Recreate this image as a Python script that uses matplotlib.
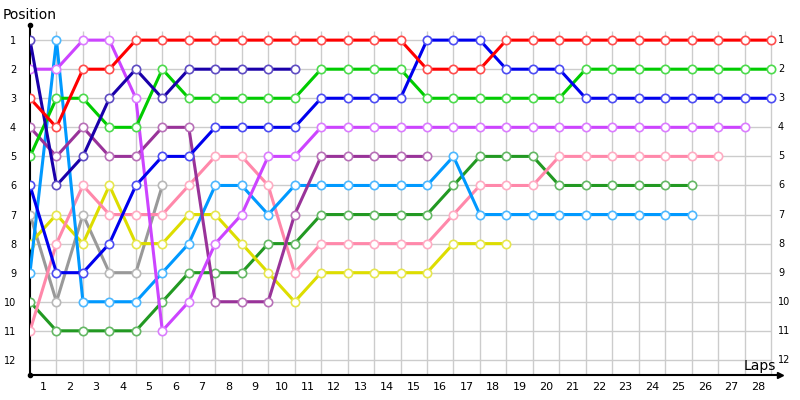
import matplotlib.pyplot as plt
from matplotlib.colors import to_rgb

# lap index 0 = start position, then laps 1..28
laps = list(range(0, 29))
lap_labels = [str(i) for i in range(1, 29)]
positions = list(range(1, 13))

red = [3, 4, 2, 2, 1, 1, 1, 1, 1, 1, 1, 1, 1, 1, 1, 2, 2, 2, 1, 1, 1, 1, 1, 1, 1, 1, 1, 1, 1]
navy = [1, 6, 5, 3, 2, 3, 2, 2, 2, 2, 2]
blue = [6, 9, 9, 8, 6, 5, 5, 4, 4, 4, 4, 3, 3, 3, 3, 1, 1, 1, 2, 2, 2, 3, 3, 3, 3, 3, 3, 3, 3]
green = [5, 3, 3, 4, 4, 2, 3, 3, 3, 3, 3, 2, 2, 2, 2, 3, 3, 3, 3, 3, 3, 2, 2, 2, 2, 2, 2, 2, 2]
violet = [2, 2, 1, 1, 3, 11, 10, 8, 7, 5, 5, 4, 4, 4, 4, 4, 4, 4, 4, 4, 4, 4, 4, 4, 4, 4, 4, 4]
purple = [4, 5, 4, 5, 5, 4, 4, 10, 10, 10, 7, 5, 5, 5, 5, 5]
cyan = [9, 1, 10, 10, 10, 9, 8, 6, 6, 7, 6, 6, 6, 6, 6, 6, 5, 7, 7, 7, 7, 7, 7, 7, 7, 7]
pink = [11, 8, 6, 7, 7, 7, 6, 5, 5, 6, 9, 8, 8, 8, 8, 8, 7, 6, 6, 6, 5, 5, 5, 5, 5, 5, 5]
yellow = [8, 7, 8, 6, 8, 8, 7, 7, 8, 9, 10, 9, 9, 9, 9, 9, 8, 8, 8]
gray = [7, 10, 7, 9, 9, 6]
dkgreen = [10, 11, 11, 11, 11, 10, 9, 9, 9, 8, 8, 7, 7, 7, 7, 7, 6, 5, 5, 5, 6, 6, 6, 6, 6, 6]

series = [
    (gray, '#999999'),
    (dkgreen, '#229922'),
    (yellow, '#dddd00'),
    (pink, '#ff88aa'),
    (cyan, '#0099ff'),
    (purple, '#993399'),
    (violet, '#cc44ff'),
    (green, '#00cc00'),
    (blue, '#0000ee'),
    (navy, '#1a00aa'),
    (red, '#ff0000'),
]


def lighter(c, f=0.3):
    r, g, b = to_rgb(c)
    return (r + (1 - r) * f, g + (1 - g) * f, b + (1 - b) * f)


fig = plt.figure(figsize=(8, 4), dpi=100)
ax = fig.add_axes([30 / 800, 25 / 400, 750 / 800, 350 / 400])
ax.set_xlim(0, 28.34)
ax.set_ylim(12.52, 0.48)

# grid
ax.vlines(laps[1:], 12.52, 0.69, color='#cccccc', lw=1, zorder=0)
ax.hlines(positions, 0, 28, color='#cccccc', lw=1, zorder=0)

for vals, col in series:
    ax.plot(laps[:len(vals)], vals, '-o', color=col, lw=2.2, ms=6,
            mfc='white', mec=lighter(col), mew=1.2, zorder=3)

for s in ['top', 'right']:
    ax.spines[s].set_visible(False)
ax.spines['left'].set_linewidth(1.5)
ax.spines['bottom'].set_linewidth(1.5)
ax.plot(0, 1, 'ko', ms=3, transform=ax.transAxes, clip_on=False)
ax.plot(0, 0, 'ko', ms=3, transform=ax.transAxes, clip_on=False)
ax.plot(1, 0, 'k>', ms=5, transform=ax.transAxes, clip_on=False)

ax.set_xticks([l - 0.5 for l in laps[1:]])
ax.set_xticklabels(lap_labels, fontsize=8)
ax.set_yticks(positions)
ax.set_yticklabels([str(p) for p in positions], fontsize=7)
ax.tick_params(axis='x', length=0, pad=5)
ax.tick_params(axis='y', length=0, pad=10)

for p in positions:
    ax.text(28.26, p, str(p), fontsize=7, va='center', ha='left')

fig.text(3 / 800, 1 - 15 / 400, 'Position', fontsize=10, va='center', ha='left')
ax.text(28.2, 12.2, 'Laps', fontsize=10, va='center', ha='right')

fig.savefig('out.png', dpi=100)
